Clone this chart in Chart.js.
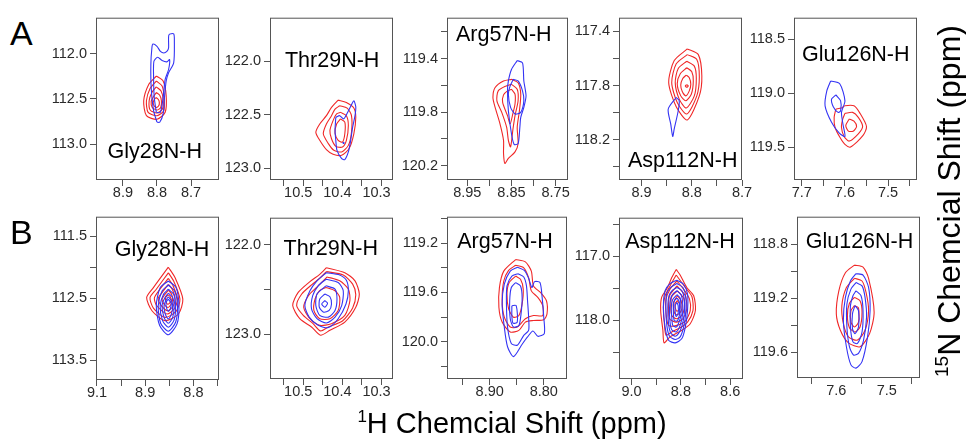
<!DOCTYPE html>
<html><head><meta charset="utf-8">
<script src="https://cdn.jsdelivr.net/npm/chart.js@4.4.1/dist/chart.umd.min.js"></script>
<style>
html,body{margin:0;padding:0;background:#fff;}
body{width:966px;height:439px;position:relative;overflow:hidden;font-family:"Liberation Sans",Arial,sans-serif;}
canvas{position:absolute;}
.t{position:absolute;line-height:1;white-space:nowrap;color:#000;}
</style></head><body>
<script>
// ---------- categories ----------
const residues = ['Gly28N-H','Thr29N-H','Arg57N-H','Asp112N-H','Glu126N-H'];
const rowLetters = ['A','B'];

// ---------- axis limits (ppm) ----------
const a1XLim=[8.618,8.979], a1YLim=[111.604,113.393];
const a2XLim=[10.258,10.572], a2YLim=[121.594,123.108];
const a3XLim=[8.722,8.996], a3YLim=[119.095,120.306];
const a4XLim=[8.700,8.945], a4YLim=[117.298,118.498];
const a5XLim=[7.433,7.718], a5YLim=[118.301,119.806];
const b1XLim=[8.747,9.002], b1YLim=[111.18,113.82];
const b2XLim=[10.258,10.572], b2YLim=[121.699,123.5];
const b3XLim=[8.757,8.979], b3YLim=[118.986,120.301];
const b4XLim=[8.548,9.051], b4YLim=[116.4,118.912];
const b5XLim=[7.434,7.678], b5YLim=[118.598,119.79];

// ---------- tick marks and tick labels ----------
const a1XMarks=[8.9,8.8,8.7], a1XLabelAt=[8.9,8.8,8.7], a1XLabels=['8.9','8.8','8.7'];
const a1YMarks=[112.0,112.5,113.0], a1YLabelAt=[112.0,112.5,113.0], a1YLabels=['112.0','112.5','113.0'];
const a2XMarks=[10.538,10.487,10.439,10.388,10.338,10.287], a2XLabelAt=[10.5,10.4,10.3], a2XLabels=['10.5','10.4','10.3'];
const a2YMarks=[122.0,122.5,123.0], a2YLabelAt=[122.0,122.5,123.0], a2YLabels=['122.0','122.5','123.0'];
const a3XMarks=[8.95,8.90,8.85,8.80,8.75], a3XLabelAt=[8.95,8.85,8.75], a3XLabels=['8.95','8.85','8.75'];
const a3YMarks=[119.2,119.4,119.6,119.8,120.0,120.2], a3YLabelAt=[119.4,119.8,120.2], a3YLabels=['119.4','119.8','120.2'];
const a4XMarks=[8.9,8.85,8.8,8.75,8.7], a4XLabelAt=[8.9,8.8,8.7], a4XLabels=['8.9','8.8','8.7'];
const a4YMarks=[117.4,117.6,117.8,118.0,118.2,118.4], a4YLabelAt=[117.4,117.8,118.2], a4YLabels=['117.4','117.8','118.2'];
const a5XMarks=[7.7,7.65,7.6,7.55,7.5,7.45], a5XLabelAt=[7.7,7.6,7.5], a5XLabels=['7.7','7.6','7.5'];
const a5YMarks=[118.5,119.0,119.5], a5YLabelAt=[118.5,119.0,119.5], a5YLabels=['118.5','119.0','119.5'];
const b1XMarks=[9.0,8.95,8.9,8.85,8.8,8.75], b1XLabelAt=[9.0,8.9,8.8], b1XLabels=['9.1','8.9','8.8'];
const b1YMarks=[111.5,112.0,112.5,113.0,113.5], b1YLabelAt=[111.5,112.5,113.5], b1YLabels=['111.5','112.5','113.5'];
const b2XMarks=[10.538,10.487,10.439,10.388,10.338,10.287], b2XLabelAt=[10.5,10.4,10.3], b2XLabels=['10.5','10.4','10.3'];
const b2YMarks=[122.0,122.5,123.0], b2YLabelAt=[122.0,123.0], b2YLabels=['122.0','123.0'];
const b3XMarks=[8.95,8.90,8.85,8.80], b3XLabelAt=[8.90,8.80], b3XLabels=['8.90','8.80'];
const b3YMarks=[119.0,119.2,119.4,119.6,119.8,120.0,120.2], b3YLabelAt=[119.2,119.6,120.0], b3YLabels=['119.2','119.6','120.0'];
const b4XMarks=[9.0,8.9,8.8,8.7,8.6], b4XLabelAt=[9.0,8.8,8.6], b4XLabels=['9.0','8.8','8.6'];
const b4YMarks=[116.5,117.0,117.5,118.0,118.5], b4YLabelAt=[117.0,118.0], b4YLabels=['117.0','118.0'];
const b5XMarks=[7.65,7.55,7.45], b5XLabelAt=[7.6,7.5], b5XLabels=['7.6','7.5'];
const b5YMarks=[118.8,119.0,119.2,119.4,119.6], b5YLabelAt=[118.8,119.2,119.6], b5YLabels=['118.8','119.2','119.6'];

// ---------- contour loops [1H ppm, 15N ppm] ----------
const a1Blue=[
 [[8.800,112.756],[8.810,112.629],[8.817,112.375],[8.818,112.12],[8.815,111.938],[8.812,111.895],[8.800,111.92],[8.790,111.975],[8.780,111.993],[8.771,111.975],[8.766,111.938],[8.765,111.793],[8.751,111.782],[8.749,111.865],[8.751,112.102],[8.766,112.211],[8.773,112.302],[8.778,112.484],[8.782,112.665],[8.792,112.756]],
 [[8.802,112.647],[8.808,112.484],[8.810,112.265],[8.809,112.084],[8.798,112.04],[8.785,112.076],[8.771,112.091],[8.763,112.065],[8.766,112.175],[8.776,112.284],[8.782,112.484],[8.790,112.647]]
];
const a1Red=[
 [[8.802,112.247],[8.782,112.302],[8.773,112.465],[8.776,112.647],[8.800,112.724],[8.831,112.684],[8.839,112.52],[8.824,112.338]],
 [[8.802,112.302],[8.785,112.356],[8.779,112.484],[8.780,112.629],[8.800,112.684],[8.826,112.647],[8.831,112.52],[8.820,112.382]],
 [[8.802,112.367],[8.788,112.411],[8.782,112.502],[8.784,112.611],[8.800,112.655],[8.820,112.622],[8.823,112.52],[8.815,112.429]],
 [[8.802,112.429],[8.792,112.458],[8.787,112.52],[8.789,112.593],[8.800,112.622],[8.814,112.593],[8.817,112.527],[8.810,112.473]],
 [[8.803,112.484],[8.796,112.505],[8.793,112.538],[8.795,112.575],[8.802,112.593],[8.809,112.571],[8.811,112.538],[8.808,112.505]]
];
const a2Blue=[
 [[10.404,122.523],[10.394,122.508],[10.384,122.538],[10.375,122.486],[10.364,122.406],[10.358,122.369],[10.353,122.425],[10.355,122.508],[10.361,122.615],[10.366,122.738],[10.372,122.846],[10.381,122.917],[10.389,122.908],[10.401,122.831],[10.404,122.738],[10.406,122.646]],
 [[10.386,122.756],[10.382,122.762],[10.385,122.768]]
];
const a2Red=[
 [[10.398,122.363],[10.377,122.385],[10.358,122.437],[10.353,122.523],[10.358,122.677],[10.370,122.815],[10.389,122.877],[10.411,122.868],[10.428,122.825],[10.445,122.738],[10.455,122.662],[10.445,122.585],[10.428,122.508],[10.415,122.431]],
 [[10.394,122.415],[10.375,122.437],[10.364,122.508],[10.364,122.662],[10.372,122.785],[10.389,122.846],[10.409,122.831],[10.423,122.769],[10.436,122.677],[10.428,122.585],[10.415,122.508],[10.406,122.446]],
 [[10.392,122.477],[10.377,122.508],[10.372,122.6],[10.377,122.738],[10.387,122.8],[10.404,122.794],[10.415,122.723],[10.419,122.646],[10.411,122.554],[10.402,122.492]],
 [[10.392,122.538],[10.381,122.569],[10.381,122.677],[10.387,122.754],[10.398,122.738],[10.406,122.671],[10.402,122.585]]
];
const a3Blue=[
 [[8.837,119.415],[8.825,119.432],[8.822,119.567],[8.817,119.678],[8.822,119.764],[8.829,119.838],[8.831,119.912],[8.835,120.035],[8.844,120.04],[8.850,119.961],[8.857,119.789],[8.859,119.641],[8.857,119.567],[8.850,119.481]],
 [[8.846,119.555],[8.835,119.567],[8.825,119.641],[8.822,119.715],[8.829,119.801],[8.842,119.813],[8.852,119.764],[8.857,119.666],[8.853,119.604]]
];
const a3Red=[
 [[8.850,119.555],[8.835,119.58],[8.829,119.666],[8.832,119.789],[8.837,119.912],[8.835,120.035],[8.842,120.096],[8.857,120.145],[8.865,120.182],[8.868,120.108],[8.868,120.01],[8.876,119.887],[8.887,119.764],[8.892,119.69],[8.887,119.616],[8.868,119.567]],
 [[8.850,119.592],[8.837,119.629],[8.835,119.715],[8.842,119.826],[8.847,119.936],[8.852,120.059],[8.857,120.01],[8.861,119.912],[8.872,119.801],[8.883,119.715],[8.880,119.641],[8.862,119.604]],
 [[8.850,119.629],[8.842,119.666],[8.842,119.739],[8.847,119.813],[8.853,119.887],[8.859,119.826],[8.870,119.727],[8.868,119.671],[8.859,119.641]]
];
const a4Blue=[
 [[8.831,117.888],[8.825,117.912],[8.827,117.986],[8.835,118.12],[8.838,118.176],[8.842,118.083],[8.847,117.973]]
];
const a4Red=[
 [[8.809,117.529],[8.787,117.571],[8.780,117.729],[8.785,117.876],[8.809,118.054],[8.831,117.956],[8.846,117.778],[8.835,117.615]],
 [[8.809,117.571],[8.790,117.607],[8.785,117.737],[8.790,117.876],[8.810,118.01],[8.829,117.925],[8.840,117.778],[8.831,117.639]],
 [[8.810,117.62],[8.795,117.656],[8.791,117.747],[8.795,117.876],[8.811,117.966],[8.825,117.9],[8.833,117.778],[8.827,117.673]],
 [[8.810,117.668],[8.800,117.698],[8.797,117.766],[8.801,117.864],[8.812,117.912],[8.822,117.876],[8.829,117.786],[8.823,117.712]],
 [[8.811,117.722],[8.805,117.742],[8.802,117.79],[8.805,117.839],[8.812,117.876],[8.819,117.844],[8.822,117.795],[8.818,117.747]],
 [[8.810,117.793],[8.807,117.803],[8.810,117.812],[8.813,117.803]]
];
const a5Blue=[
 [[7.633,118.888],[7.612,118.913],[7.600,119.072],[7.608,119.179],[7.604,119.301],[7.600,119.402],[7.613,119.372],[7.631,119.271],[7.646,119.118],[7.642,118.98]],
 [[7.621,119.017],[7.610,119.072],[7.610,119.164],[7.616,119.179],[7.627,119.127],[7.631,119.057]]
];
const a5Red=[
 [[7.621,119.148],[7.608,119.139],[7.600,119.118],[7.579,119.118],[7.565,119.188],[7.550,119.31],[7.558,119.393],[7.587,119.5],[7.600,119.476],[7.612,119.408],[7.623,119.317],[7.625,119.225]],
 [[7.600,119.188],[7.582,119.179],[7.569,119.225],[7.559,119.31],[7.569,119.378],[7.590,119.445],[7.602,119.402],[7.608,119.317],[7.605,119.24]],
 [[7.590,119.24],[7.579,119.261],[7.573,119.31],[7.581,119.353],[7.592,119.353],[7.598,119.301]]
];
const b1Blue=[
 [[8.852,112.22],[8.836,112.327],[8.830,112.62],[8.834,112.913],[8.852,113.089],[8.870,112.94],[8.877,112.62],[8.869,112.327]],
 [[8.852,112.284],[8.839,112.38],[8.833,112.62],[8.837,112.887],[8.852,113.031],[8.868,112.903],[8.873,112.62],[8.865,112.38]],
 [[8.852,112.353],[8.841,112.433],[8.837,112.62],[8.840,112.849],[8.852,112.967],[8.864,112.86],[8.869,112.62],[8.862,112.433]],
 [[8.852,112.417],[8.843,112.487],[8.840,112.62],[8.843,112.807],[8.852,112.903],[8.861,112.807],[8.865,112.62],[8.859,112.487]],
 [[8.852,112.476],[8.846,112.529],[8.843,112.62],[8.846,112.764],[8.852,112.833],[8.858,112.764],[8.861,112.62],[8.857,112.529]],
 [[8.852,112.513],[8.848,112.556],[8.846,112.593],[8.848,112.673],[8.852,112.711],[8.855,112.673],[8.857,112.593],[8.855,112.54]]
];
const b1Red=[
 [[8.852,111.996],[8.838,112.167],[8.822,112.513],[8.831,112.753],[8.859,112.86],[8.886,112.7],[8.897,112.487],[8.883,112.327]],
 [[8.852,112.087],[8.841,112.22],[8.828,112.513],[8.836,112.711],[8.859,112.807],[8.883,112.657],[8.890,112.487],[8.877,112.353]],
 [[8.852,112.177],[8.843,112.284],[8.833,112.513],[8.840,112.673],[8.855,112.753],[8.876,112.62],[8.881,112.497],[8.872,112.38]],
 [[8.852,112.273],[8.844,112.353],[8.838,112.513],[8.843,112.636],[8.854,112.7],[8.869,112.593],[8.873,112.497],[8.865,112.407]],
 [[8.852,112.369],[8.846,112.423],[8.843,112.513],[8.847,112.604],[8.853,112.647],[8.862,112.583],[8.865,112.513],[8.860,112.444]],
 [[8.852,112.444],[8.848,112.476],[8.846,112.529],[8.850,112.583],[8.854,112.593],[8.857,112.551],[8.858,112.497],[8.855,112.46]]
];
const b2Blue=[
 [[10.428,122.313],[10.394,122.338],[10.377,122.397],[10.372,122.515],[10.378,122.662],[10.398,122.827],[10.423,122.926],[10.449,122.901],[10.472,122.809],[10.483,122.68],[10.470,122.515],[10.452,122.404]],
 [[10.429,122.386],[10.398,122.423],[10.385,122.515],[10.389,122.68],[10.406,122.809],[10.428,122.875],[10.452,122.827],[10.466,122.717],[10.463,122.57],[10.449,122.46]],
 [[10.429,122.46],[10.406,122.496],[10.401,122.607],[10.406,122.735],[10.423,122.809],[10.445,122.79],[10.455,122.68],[10.452,122.551]],
 [[10.432,122.551],[10.419,122.581],[10.415,122.662],[10.421,122.735],[10.435,122.754],[10.446,122.699],[10.445,122.607]],
 [[10.432,122.625],[10.425,122.654],[10.432,122.699],[10.440,122.662]]
];
const b2Red=[
 [[10.428,122.257],[10.381,122.313],[10.355,122.404],[10.344,122.551],[10.353,122.699],[10.381,122.864],[10.419,122.956],[10.443,123.011],[10.466,122.919],[10.496,122.827],[10.514,122.68],[10.500,122.533],[10.470,122.412],[10.445,122.331]],
 [[10.428,122.301],[10.385,122.338],[10.361,122.441],[10.353,122.559],[10.361,122.706],[10.387,122.853],[10.423,122.919],[10.443,122.963],[10.462,122.882],[10.487,122.79],[10.504,122.68],[10.491,122.551],[10.466,122.449],[10.445,122.375]],
 [[10.426,122.36],[10.394,122.404],[10.372,122.496],[10.368,122.625],[10.381,122.79],[10.415,122.882],[10.445,122.901],[10.470,122.827],[10.486,122.699],[10.474,122.57],[10.453,122.478]],
 [[10.429,122.478],[10.406,122.515],[10.394,122.588],[10.398,122.735],[10.419,122.827],[10.445,122.827],[10.460,122.735],[10.457,122.607],[10.446,122.515]]
];
const b3Blue=[
 [[8.849,119.395],[8.836,119.421],[8.828,119.485],[8.822,119.56],[8.817,119.512],[8.807,119.52],[8.803,119.64],[8.800,119.8],[8.799,119.933],[8.811,119.955],[8.820,119.912],[8.830,119.96],[8.840,120.019],[8.856,120.12],[8.867,120.04],[8.873,119.88],[8.877,119.693],[8.873,119.533],[8.862,119.427]],
 [[8.848,119.448],[8.837,119.475],[8.832,119.547],[8.830,119.667],[8.828,119.8],[8.828,119.907],[8.837,119.947],[8.849,120.027],[8.860,120.013],[8.867,119.88],[8.869,119.693],[8.868,119.547],[8.859,119.467]],
 [[8.852,119.52],[8.843,119.547],[8.840,119.64],[8.842,119.773],[8.846,119.867],[8.856,119.88],[8.862,119.813],[8.863,119.667],[8.860,119.56]],
 [[8.859,119.707],[8.851,119.707],[8.849,119.84],[8.857,119.848],[8.859,119.787]]
];
const b3Red=[
 [[8.852,119.333],[8.834,119.352],[8.823,119.427],[8.819,119.547],[8.806,119.6],[8.795,119.667],[8.794,119.773],[8.800,119.821],[8.819,119.827],[8.834,119.84],[8.846,119.907],[8.862,119.92],[8.877,119.84],[8.883,119.72],[8.882,119.56],[8.874,119.427]],
 [[8.852,119.379],[8.837,119.4],[8.828,119.48],[8.823,119.587],[8.811,119.64],[8.802,119.707],[8.802,119.787],[8.819,119.787],[8.834,119.813],[8.849,119.88],[8.862,119.88],[8.873,119.8],[8.877,119.667],[8.874,119.507],[8.865,119.421]],
 [[8.852,119.467],[8.843,119.493],[8.838,119.573],[8.840,119.693],[8.846,119.787],[8.856,119.8],[8.865,119.733],[8.868,119.613],[8.864,119.52]]
];
const b4Blue=[
 [[8.816,117.374],[8.789,117.436],[8.773,117.59],[8.773,117.846],[8.782,118.103],[8.796,118.282],[8.823,118.349],[8.850,118.308],[8.864,118.103],[8.871,117.795],[8.864,117.538],[8.844,117.426]],
 [[8.816,117.426],[8.792,117.487],[8.780,117.631],[8.780,117.872],[8.789,118.103],[8.803,118.256],[8.823,118.297],[8.846,118.246],[8.857,118.077],[8.861,117.795],[8.857,117.579],[8.839,117.477]],
 [[8.816,117.487],[8.796,117.538],[8.786,117.667],[8.786,117.887],[8.796,118.092],[8.810,118.205],[8.823,118.246],[8.841,118.195],[8.850,118.051],[8.853,117.795],[8.848,117.615],[8.834,117.528]],
 [[8.816,117.538],[8.799,117.6],[8.793,117.718],[8.793,117.897],[8.803,118.077],[8.819,118.179],[8.837,118.144],[8.844,118.026],[8.846,117.805],[8.841,117.651],[8.830,117.579]],
 [[8.816,117.6],[8.803,117.651],[8.800,117.769],[8.800,117.923],[8.810,118.051],[8.819,118.103],[8.833,118.077],[8.837,117.949],[8.839,117.805],[8.834,117.682]],
 [[8.816,117.651],[8.807,117.703],[8.805,117.805],[8.807,117.938],[8.816,118.01],[8.827,118.0],[8.830,117.908],[8.830,117.769],[8.826,117.692]],
 [[8.816,117.718],[8.811,117.769],[8.811,117.887],[8.819,117.938],[8.823,117.872],[8.823,117.769]]
];
const b4Red=[
 [[8.819,117.205],[8.803,117.292],[8.776,117.487],[8.748,117.615],[8.741,117.846],[8.762,118.051],[8.796,118.154],[8.844,118.256],[8.868,118.349],[8.873,118.154],[8.882,117.846],[8.878,117.641],[8.854,117.487],[8.837,117.333]],
 [[8.819,117.292],[8.782,117.487],[8.755,117.631],[8.751,117.846],[8.773,118.026],[8.803,118.113],[8.837,118.179],[8.860,118.231],[8.867,118.051],[8.871,117.795],[8.864,117.615],[8.844,117.462]],
 [[8.816,117.385],[8.789,117.513],[8.765,117.667],[8.762,117.846],[8.782,118.01],[8.816,118.077],[8.850,118.077],[8.860,117.897],[8.860,117.667],[8.844,117.513]],
 [[8.816,117.462],[8.782,117.615],[8.776,117.821],[8.792,117.974],[8.819,118.026],[8.846,117.974],[8.850,117.795],[8.846,117.615]],
 [[8.814,117.538],[8.789,117.651],[8.786,117.821],[8.800,117.938],[8.819,117.974],[8.837,117.923],[8.841,117.769],[8.837,117.631]],
 [[8.814,117.615],[8.799,117.692],[8.796,117.821],[8.808,117.897],[8.822,117.908],[8.830,117.821],[8.830,117.718]],
 [[8.814,117.692],[8.805,117.744],[8.805,117.821],[8.816,117.856],[8.823,117.795],[8.823,117.733]]
];
const b5Blue=[
 [[7.561,119.019],[7.547,119.029],[7.536,119.121],[7.533,119.292],[7.538,119.486],[7.549,119.669],[7.561,119.717],[7.571,119.693],[7.580,119.559],[7.586,119.364],[7.582,119.194],[7.572,119.073]],
 [[7.561,119.085],[7.549,119.109],[7.543,119.194],[7.540,119.34],[7.546,119.51],[7.556,119.608],[7.566,119.62],[7.574,119.559],[7.579,119.413],[7.579,119.243],[7.571,119.133]],
 [[7.561,119.146],[7.551,119.182],[7.547,119.292],[7.549,119.45],[7.558,119.535],[7.567,119.523],[7.572,119.413],[7.572,119.255],[7.567,119.182]],
 [[7.563,119.255],[7.556,119.292],[7.556,119.413],[7.563,119.462],[7.568,119.425],[7.568,119.316]]
];
const b5Red=[
 [[7.564,118.956],[7.547,118.97],[7.536,119.053],[7.525,119.304],[7.534,119.462],[7.553,119.559],[7.576,119.53],[7.592,119.437],[7.600,119.316],[7.595,119.146],[7.582,119.012]],
 [[7.564,119.053],[7.549,119.073],[7.541,119.158],[7.536,119.292],[7.543,119.437],[7.558,119.51],[7.576,119.486],[7.586,119.389],[7.589,119.255],[7.580,119.121]],
 [[7.564,119.194],[7.553,119.219],[7.549,119.304],[7.553,119.413],[7.563,119.45],[7.574,119.418],[7.578,119.328],[7.574,119.238]],
 [[7.564,119.255],[7.556,119.272],[7.556,119.377],[7.564,119.413],[7.571,119.377],[7.571,119.292]]
];

// ---------- layout (page pixels) & assembly ----------
const panels=[
 {frame:[96,16,219,180],  xl:a1XLim,yl:a1YLim,xm:a1XMarks,xa:a1XLabelAt,xt:a1XLabels,ym:a1YMarks,ya:a1YLabelAt,yt:a1YLabels,blue:a1Blue,red:a1Red,title:residues[0],tp:[154.8,141.2]},
 {frame:[270,16,393,180], xl:a2XLim,yl:a2YLim,xm:a2XMarks,xa:a2XLabelAt,xt:a2XLabels,ym:a2YMarks,ya:a2YLabelAt,yt:a2YLabels,blue:a2Blue,red:a2Red,title:residues[1],tp:[332.2,50.2]},
 {frame:[447,16,568,180], xl:a3XLim,yl:a3YLim,xm:a3XMarks,xa:a3XLabelAt,xt:a3XLabels,ym:a3YMarks,ya:a3YLabelAt,yt:a3YLabels,blue:a3Blue,red:a3Red,title:residues[2],tp:[503.8,23.5]},
 {frame:[619,16,742,180], xl:a4XLim,yl:a4YLim,xm:a4XMarks,xa:a4XLabelAt,xt:a4XLabels,ym:a4YMarks,ya:a4YLabelAt,yt:a4YLabels,blue:a4Blue,red:a4Red,title:residues[3],tp:[682.7,150.2]},
 {frame:[794,16,917,180], xl:a5XLim,yl:a5YLim,xm:a5XMarks,xa:a5XLabelAt,xt:a5XLabels,ym:a5YMarks,ya:a5YLabelAt,yt:a5YLabels,blue:a5Blue,red:a5Red,title:residues[4],tp:[855.8,43.8]},
 {frame:[96,215,219,380], xl:b1XLim,yl:b1YLim,xm:b1XMarks,xa:b1XLabelAt,xt:b1XLabels,ym:b1YMarks,ya:b1YLabelAt,yt:b1YLabels,blue:b1Blue,red:b1Red,title:residues[0],tp:[162,238.8]},
 {frame:[270,216,393,379],xl:b2XLim,yl:b2YLim,xm:b2XMarks,xa:b2XLabelAt,xt:b2XLabels,ym:b2YMarks,ya:b2YLabelAt,yt:b2YLabels,blue:b2Blue,red:b2Red,title:residues[1],tp:[330.8,237.8]},
 {frame:[447,215,567,379],xl:b3XLim,yl:b3YLim,xm:b3XMarks,xa:b3XLabelAt,xt:b3XLabels,ym:b3YMarks,ya:b3YLabelAt,yt:b3YLabels,blue:b3Blue,red:b3Red,title:residues[2],tp:[505,231.2]},
 {frame:[619,216,743,379],xl:b4XLim,yl:b4YLim,xm:b4XMarks,xa:b4XLabelAt,xt:b4XLabels,ym:b4YMarks,ya:b4YLabelAt,yt:b4YLabels,blue:b4Blue,red:b4Red,title:residues[3],tp:[680,231.2]},
 {frame:[797,215,920,378],xl:b5XLim,yl:b5YLim,xm:b5XMarks,xa:b5XLabelAt,xt:b5XLabels,ym:b5YMarks,ya:b5YLabelAt,yt:b5YLabels,blue:b5Blue,red:b5Red,title:residues[4],tp:[859.5,231.2]}
];

const RED='#f02828', BLUE='#3434f4', AXIS='#555', TICKTXT='#2a2a2a';
const YW=60, XH=30, PT=10, PR=20;
Chart.defaults.font.family='"Liberation Sans", Arial, sans-serif';

function buildTicks(marks, at, txt){
  const m=new Map();
  marks.forEach(v=>m.set(v.toFixed(4),{value:v,mark:true,text:''}));
  at.forEach((v,i)=>{const k=v.toFixed(4); if(m.has(k)) m.get(k).text=txt[i]; else m.set(k,{value:v,mark:false,text:txt[i]});});
  return [...m.values()].sort((a,b)=>a.value-b.value);
}
function loops(list,color){
  return list.map(l=>({data:l.concat([l[0]]).map(p=>({x:p[0],y:p[1]})),showLine:true,borderColor:color,borderWidth:1.1,pointRadius:0,pointHoverRadius:0,fill:false,tension:0.25}));
}
const framePlugin={id:'frame',afterDatasetsDraw(chart){const {ctx,chartArea:a}=chart;ctx.save();ctx.strokeStyle=AXIS;ctx.lineWidth=1;ctx.strokeRect(a.left+0.5,a.top+0.5,a.right-a.left-1,a.bottom-a.top-1);ctx.restore();}};

function axis(lim, marks, at, txt, isX){
  const built=buildTicks(marks,at,txt);
  return {type:'linear',min:lim[0],max:lim[1],reverse:true,position:isX?'bottom':'left',
    afterBuildTicks:s=>{s.ticks=built.map(t=>({value:t.value,mark:t.mark,text:t.text}));},
    afterFit:s=>{ if(isX) s.height=XH; else s.width=YW; },
    border:{display:false},
    grid:{display:true,drawOnChartArea:false,drawTicks:true,tickLength:6,tickWidth:1,
      tickColor:c=>(c.tick&&c.tick.mark)?AXIS:'rgba(0,0,0,0)'},
    ticks:{autoSkip:false,maxRotation:0,minRotation:0,padding:isX?-2:3,color:TICKTXT,font:{size:14.5}},
  };
}

panels.forEach(p=>{
  const [L,T,R,B]=p.frame;
  const cv=document.createElement('canvas');
  const w=YW+(R-L)+PR, h=PT+(B-T)+XH;
  cv.width=w; cv.height=h;
  cv.style.left=(L-YW)+'px'; cv.style.top=(T-PT)+'px';
  cv.style.width=w+'px'; cv.style.height=h+'px';
  document.body.appendChild(cv);
  const xs=axis(p.xl,p.xm,p.xa,p.xt,true), ys=axis(p.yl,p.ym,p.ya,p.yt,false);
  xs.ticks.callback=(v,i,ts)=>ts[i].text; ys.ticks.callback=(v,i,ts)=>ts[i].text;
  new Chart(cv,{type:'scatter',
    data:{datasets:[...loops(p.blue,BLUE),...loops(p.red,RED)]},
    options:{responsive:false,animation:false,devicePixelRatio:1,
      layout:{padding:{top:PT,right:PR,left:0,bottom:0}},
      plugins:{legend:{display:false},tooltip:{enabled:false}},
      events:[],
      scales:{x:xs,y:ys}},
    plugins:[framePlugin]});
  const d=document.createElement('div');
  d.className='t'; d.textContent=p.title;
  d.style.fontSize='21.5px'; d.style.width='200px'; d.style.textAlign='center';
  d.style.left=(p.tp[0]-100)+'px'; d.style.top=p.tp[1]+'px';
  document.body.appendChild(d);
});

// row letters
[[10,16.2],[10,214.5]].forEach((pos,i)=>{
  const d=document.createElement('div'); d.className='t'; d.textContent=rowLetters[i];
  d.style.fontSize='34px'; d.style.left=pos[0]+'px'; d.style.top=pos[1]+'px';
  document.body.appendChild(d);
});

// axis titles
const xt=document.createElement('div'); xt.className='t';
xt.innerHTML='<span style="font-size:17px;position:relative;top:-11px">1</span>H Chemcial Shift (ppm)';
xt.style.fontSize='29px'; xt.style.width='400px'; xt.style.textAlign='center';
xt.style.left='312px'; xt.style.top='408.5px';
document.body.appendChild(xt);

const yt=document.createElement('div'); yt.className='t';
yt.innerHTML='<span style="font-size:19px;position:relative;top:-12px">15</span>N Chemcial Shift (ppm)';
yt.style.fontSize='32px'; yt.style.width='420px'; yt.style.height='32px'; yt.style.textAlign='center';
yt.style.left=(949-210)+'px'; yt.style.top=(201-16)+'px';
yt.style.transform='rotate(-90deg)'; yt.style.transformOrigin='50% 50%';
document.body.appendChild(yt);
</script>
</body></html>
